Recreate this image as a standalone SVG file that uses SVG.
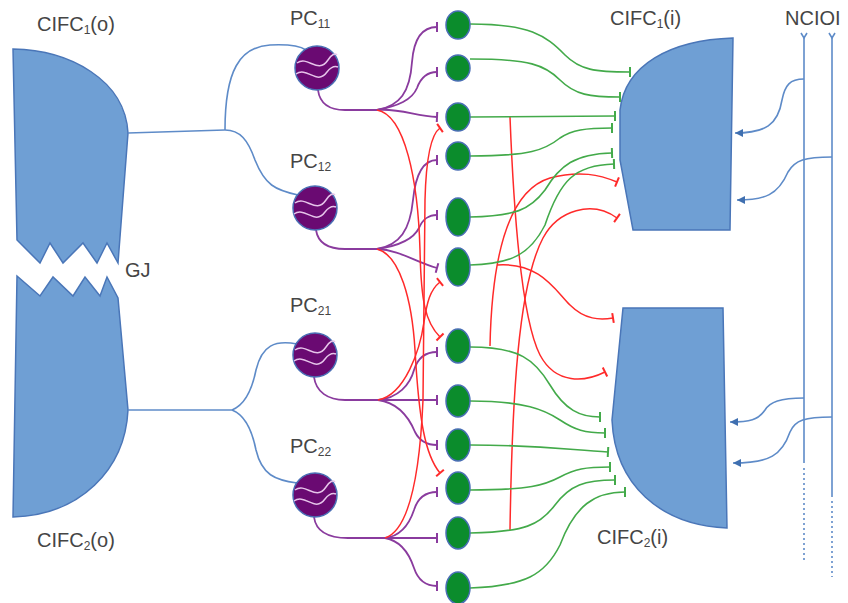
<svg xmlns="http://www.w3.org/2000/svg" width="848" height="603" viewBox="0 0 848 603">
<defs>
<style>
.lbl{font-family:"Liberation Sans",Arial,sans-serif;font-size:20px;fill:#454545}
.sub{font-size:12px}
.shape{fill:#6f9fd4;stroke:#4a76b8;stroke-width:1.5}
.blue{fill:none;stroke:#5e8bc8;stroke-width:1.6}
.pur{fill:none;stroke:#8a3b9e;stroke-width:1.8}
.red{fill:none;stroke:#ff2a2a;stroke-width:1.5}
.grn{fill:none;stroke:#43aa4a;stroke-width:1.6}
.gc{fill:#0b8c2c;stroke:#4a6fb5;stroke-width:1.5}
.pc{fill:#6a0a72;stroke:#4a6fb5;stroke-width:1.5}
.wave{fill:none;stroke:#e6c4ea;stroke-width:1.5}
</style>
<marker id="tP" markerUnits="userSpaceOnUse" markerWidth="4" markerHeight="12" refX="2" refY="6" orient="auto"><path d="M2,1 L2,11" stroke="#8a3b9e" stroke-width="2"/></marker>
<marker id="tR" markerUnits="userSpaceOnUse" markerWidth="4" markerHeight="12" refX="2" refY="6" orient="auto"><path d="M2,1 L2,11" stroke="#ff2a2a" stroke-width="2"/></marker>
<marker id="tG" markerUnits="userSpaceOnUse" markerWidth="4" markerHeight="12" refX="2" refY="6" orient="auto"><path d="M2,1 L2,11" stroke="#43aa4a" stroke-width="2"/></marker>
<marker id="aB" markerUnits="userSpaceOnUse" markerWidth="10" markerHeight="8" refX="8" refY="4" orient="auto"><path d="M0,0 L8,4 L0,8 Z" fill="#3f6fb0"/></marker>
</defs>

<g id="CIFC1o"><path class="shape" d="M13 49 C70 50 125 80 128 133 L118 263 L107 243 L97 263 L83 243 L63 263 L50 243 L40 263 L17 240 Z"/></g>
<g id="CIFC2o"><path class="shape" d="M17 276 L40 296 L53 277 L73 296 L85 277 L100 296 L107 277 L118 298 L128 410 C125 470 80 515 13 517 Z"/></g>
<g id="CIFC1i"><path class="shape" d="M733 38 L730 230 L633 230 L620 160 L620 110 C625 65 670 40 733 38 Z"/></g>
<g id="CIFC2i"><path class="shape" d="M623 308 L723 308 L727 528 C660 525 615 485 612 420 Z"/></g>

<g id="connectors">
<!-- left blue -->
<path class="blue" d="M128 133 L225 130"/>
<path class="blue" d="M225 130 C225 70 240 47 270 45 C290 44 300 46 306 50"/>
<path class="blue" d="M225 130 C240 130 248 140 255 160 C265 185 275 190 298 195"/>
<path class="blue" d="M128 410 L232 410"/>
<path class="blue" d="M232 410 C245 405 252 390 256 370 C262 345 275 340 297 344"/>
<path class="blue" d="M232 410 C245 415 252 430 256 450 C262 475 275 480 297 483"/>
<!-- NCIOI -->
<path class="blue" d="M804 36 L804 463"/>
<path class="blue" d="M832 36 L832 497"/>
<path class="blue" d="M804 468 L804 562" stroke-dasharray="2 3"/>
<path class="blue" d="M832 501 L832 577" stroke-dasharray="2 3"/>
<path class="blue" d="M801 33 L804 38 L807 33" stroke-width="1"/>
<path class="blue" d="M829 33 L832 38 L835 33" stroke-width="1"/>
<path class="blue" marker-end="url(#aB)" d="M804 79 C790 79 785 85 782 100 C778 125 765 133 735 133"/>
<path class="blue" marker-end="url(#aB)" d="M832 157 C805 157 795 160 788 172 C778 195 765 200 737 200"/>
<path class="blue" marker-end="url(#aB)" d="M804 398 C780 398 770 402 765 410 C758 420 750 422 730 422"/>
<path class="blue" marker-end="url(#aB)" d="M832 417 C805 417 795 420 790 432 C782 455 770 463 733 463"/>

<!-- purple axons -->
<path class="pur" d="M318 90 C320 105 330 110 345 110 L377 110"/>
<path class="pur" marker-end="url(#tP)" d="M377 110 C400 106 410 92 412 62 C414 36 424 27 437 27"/>
<path class="pur" marker-end="url(#tP)" d="M377 110 C398 106 412 100 417 88 C421 77 427 72 437 72"/>
<path class="pur" marker-end="url(#tP)" d="M377 110 C400 108 415 116 437 117"/>
<path class="pur" d="M316 230 C318 243 328 249 345 249 L377 249"/>
<path class="pur" marker-end="url(#tP)" d="M377 249 C400 245 410 230 413 200 C416 170 425 160 437 160"/>
<path class="pur" marker-end="url(#tP)" d="M377 249 C398 246 413 240 419 228 C423 219 428 215 437 215"/>
<path class="pur" marker-end="url(#tP)" d="M377 249 C400 250 415 262 437 268"/>
<path class="pur" d="M314 377 C316 392 328 400 345 400 L378 400"/>
<path class="pur" marker-end="url(#tP)" d="M378 400 C398 398 410 385 414 370 C418 357 426 352 437 352"/>
<path class="pur" marker-end="url(#tP)" d="M378 400 L437 400"/>
<path class="pur" marker-end="url(#tP)" d="M378 400 C400 403 410 420 415 432 C420 442 428 445 437 445"/>
<path class="pur" d="M314 517 C316 532 328 538 348 538 L385 538"/>
<path class="pur" marker-end="url(#tP)" d="M385 538 C402 536 410 522 414 510 C418 497 426 492 437 492"/>
<path class="pur" marker-end="url(#tP)" d="M385 538 L437 538"/>
<path class="pur" marker-end="url(#tP)" d="M385 538 C402 541 410 556 414 568 C418 580 426 586 437 586"/>

<!-- middle red -->
<path class="red" marker-end="url(#tR)" d="M377 110 C405 115 418 180 420 250 C421 300 425 322 440 337"/>
<path class="red" marker-end="url(#tR)" d="M377 249 C400 255 412 300 415 350 C419 420 425 455 440 473"/>
<path class="red" marker-end="url(#tR)" d="M378 400 C405 395 420 350 424 322 C427 302 430 290 440 282"/>
<path class="red" marker-end="url(#tR)" d="M385 538 C410 530 420 470 423 400 L425 200 C426 160 430 135 440 128"/>

<!-- right red -->
<path class="red" marker-end="url(#tR)" d="M510 117 C514 220 522 320 540 355 C556 385 585 382 605 372"/>
<path class="red" marker-end="url(#tR)" d="M510 530 C512 400 518 285 543 238 C558 210 592 200 617 218"/>
<path class="red" marker-end="url(#tR)" d="M490 346 C492 250 510 190 550 178 C580 170 600 175 617 182"/>
<path class="red" marker-end="url(#tR)" d="M497 265 C540 262 555 290 570 305 C585 320 600 320 613 318"/>

<!-- green -->
<path class="grn" marker-end="url(#tG)" d="M470 24 C530 24 545 35 565 55 C580 70 595 72 630 72"/>
<path class="grn" marker-end="url(#tG)" d="M470 59 C530 59 545 65 560 80 C575 95 590 97 620 97"/>
<path class="grn" marker-end="url(#tG)" d="M470 117 L615 116"/>
<path class="grn" marker-end="url(#tG)" d="M470 156 C530 156 545 150 560 138 C572 130 585 128 612 128"/>
<path class="grn" marker-end="url(#tG)" d="M470 217 C515 216 530 210 545 190 C560 165 575 154 612 153"/>
<path class="grn" marker-end="url(#tG)" d="M470 265 C510 264 530 255 545 225 C560 180 575 165 614 164"/>
<path class="grn" marker-end="url(#tG)" d="M470 347 C520 347 535 360 550 385 C565 410 580 417 600 417"/>
<path class="grn" marker-end="url(#tG)" d="M470 401 C525 401 545 410 560 420 C575 430 585 433 605 433"/>
<path class="grn" marker-end="url(#tG)" d="M470 445 C540 445 570 450 608 452"/>
<path class="grn" marker-end="url(#tG)" d="M470 490 C530 490 545 485 560 477 C575 469 585 467 610 467"/>
<path class="grn" marker-end="url(#tG)" d="M470 533 C525 532 540 525 555 505 C570 485 585 480 615 480"/>
<path class="grn" marker-end="url(#tG)" d="M470 588 C525 586 545 575 560 545 C575 505 595 492 625 492"/>
</g>

<g id="PC11"><circle class="pc" cx="317" cy="68" r="22"/><path class="wave" d="M297 63 C308 55 318 75 328 60 C332 54 335 53 337 55"/><path class="wave" d="M296 74 C307 66 317 86 327 72 C331 67 335 66 338 67"/></g>
<g id="PC12"><circle class="pc" cx="315" cy="208" r="22"/><path class="wave" d="M295 203 C306 195 316 215 326 200 C330 194 333 193 335 195"/><path class="wave" d="M294 214 C305 206 315 226 325 212 C329 207 333 206 336 207"/></g>
<g id="PC21"><circle class="pc" cx="315" cy="355" r="22"/><path class="wave" d="M295 350 C306 342 316 362 326 347 C330 341 333 340 335 342"/><path class="wave" d="M294 361 C305 353 315 373 325 359 C329 354 333 353 336 354"/></g>
<g id="PC22"><circle class="pc" cx="315" cy="495" r="22"/><path class="wave" d="M295 490 C306 482 316 502 326 487 C330 481 333 480 335 482"/><path class="wave" d="M294 501 C305 493 315 513 325 499 C329 494 333 493 336 494"/></g>

<g id="GC1"><ellipse class="gc" cx="458" cy="25" rx="12" ry="14"/></g>
<g id="GC2"><ellipse class="gc" cx="458" cy="68" rx="12" ry="13"/></g>
<g id="GC3"><ellipse class="gc" cx="458" cy="117" rx="12" ry="14"/></g>
<g id="GC4"><ellipse class="gc" cx="458" cy="156" rx="12" ry="14"/></g>
<g id="GC5"><ellipse class="gc" cx="458" cy="217" rx="12" ry="19"/></g>
<g id="GC6"><ellipse class="gc" cx="458" cy="267" rx="12" ry="19"/></g>
<g id="GC7"><ellipse class="gc" cx="458" cy="346" rx="12" ry="17"/></g>
<g id="GC8"><ellipse class="gc" cx="458" cy="401" rx="12" ry="16"/></g>
<g id="GC9"><ellipse class="gc" cx="458" cy="445" rx="12" ry="16"/></g>
<g id="GC10"><ellipse class="gc" cx="458" cy="488" rx="12" ry="16"/></g>
<g id="GC11"><ellipse class="gc" cx="458" cy="533" rx="12" ry="16"/></g>
<g id="GC12"><ellipse class="gc" cx="458" cy="588" rx="12" ry="16"/></g>

<g id="labels">
<text class="lbl" x="37" y="31">CIFC<tspan class="sub" dy="3">1</tspan><tspan dy="-3">(o)</tspan></text>
<text class="lbl" x="37" y="547">CIFC<tspan class="sub" dy="3">2</tspan><tspan dy="-3">(o)</tspan></text>
<text class="lbl" x="125" y="277">GJ</text>
<text class="lbl" x="290" y="25">PC<tspan class="sub" dy="3">11</tspan></text>
<text class="lbl" x="290" y="168">PC<tspan class="sub" dy="3">12</tspan></text>
<text class="lbl" x="290" y="312">PC<tspan class="sub" dy="3">21</tspan></text>
<text class="lbl" x="290" y="453">PC<tspan class="sub" dy="3">22</tspan></text>
<text class="lbl" x="610" y="25">CIFC<tspan class="sub" dy="3">1</tspan><tspan dy="-3">(i)</tspan></text>
<text class="lbl" x="597" y="544">CIFC<tspan class="sub" dy="3">2</tspan><tspan dy="-3">(i)</tspan></text>
<text class="lbl" x="785" y="25">NCIOI</text>
</g>
</svg>
